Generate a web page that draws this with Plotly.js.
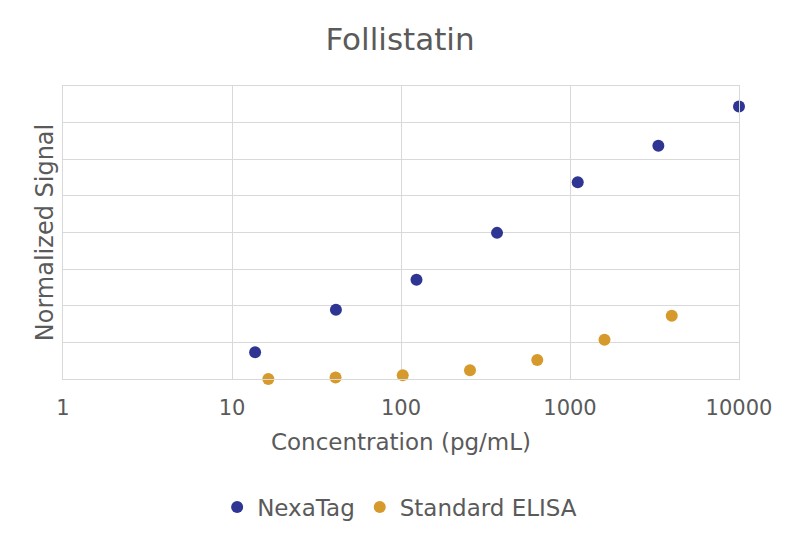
<!DOCTYPE html>
<html>
<head>
<meta charset="utf-8">
<script src="https://cdn.plot.ly/plotly-3.0.1.min.js"></script>
<style>
  html, body { margin: 0; padding: 0; background: #fff; }
  #chart { width: 800px; height: 542px; }
</style>
</head>
<body>
<div id="chart"></div>
<script>
// values (x in pg/mL, y in normalized signal units)
const nexaConc = [13.7, 41.2, 123.5, 370, 1111, 3333, 10000];
const nexaSignal = [0.73, 1.89, 2.71, 3.99, 5.37, 6.37, 7.44];
const elisaConc = [16.4, 41, 102.4, 256, 640, 1600, 4000];
const elisaSignal = [0.0, 0.04, 0.1, 0.24, 0.52, 1.07, 1.73];
const xTicks = [1, 10, 100, 1000, 10000];

const FONT = '"DejaVu Sans", "Open Sans", sans-serif';
const TEXT = '#5a5a5a';
const GRID = '#d9d9d9';

const traces = [
  {
    x: nexaConc, y: nexaSignal, name: 'NexaTag',
    type: 'scatter', mode: 'markers', cliponaxis: false,
    marker: { color: '#2f3592', size: 12 }
  },
  {
    x: elisaConc, y: elisaSignal, name: 'Standard ELISA',
    type: 'scatter', mode: 'markers', cliponaxis: false,
    marker: { color: '#d69a2c', size: 12 }
  }
];

const layout = {
  width: 800, height: 542,
  margin: { l: 63, r: 61, t: 86, b: 163 },
  paper_bgcolor: '#fff', plot_bgcolor: '#fff',
  font: { family: FONT, color: TEXT, size: 22 },
  title: { text: 'Follistatin', font: { size: 31, color: TEXT }, x: 0.5, xanchor: 'center', y: 0.928, yanchor: 'middle' },
  showlegend: true,
  legend: {
    orientation: 'h', x: 0.498, xanchor: 'center', y: -0.437, yanchor: 'middle',
    font: { size: 23, color: TEXT }, itemwidth: 30, tracegroupgap: 0
  },
  xaxis: {
    type: 'log', range: [0, 4],
    tickvals: xTicks, ticktext: xTicks.map(String),
    showgrid: true, gridcolor: GRID, gridwidth: 1,
    showline: true, linecolor: GRID, mirror: true,
    zeroline: false, ticks: '', ticklen: 0,
    ticklabelstandoff: 10,
    tickfont: { size: 21, color: TEXT },
    title: { text: 'Concentration (pg/mL)', font: { size: 23, color: TEXT }, standoff: 14 }
  },
  yaxis: {
    range: [0, 8], dtick: 1, tick0: 0,
    showticklabels: false,
    showgrid: true, gridcolor: GRID, gridwidth: 1,
    showline: true, linecolor: GRID, mirror: true,
    zeroline: false, ticks: '',
    title: { text: 'Normalized Signal', font: { size: 24, color: TEXT }, standoff: 1 }
  }
};

Plotly.newPlot('chart', traces, layout, { displayModeBar: false, staticPlot: true });
</script>
</body>
</html>
